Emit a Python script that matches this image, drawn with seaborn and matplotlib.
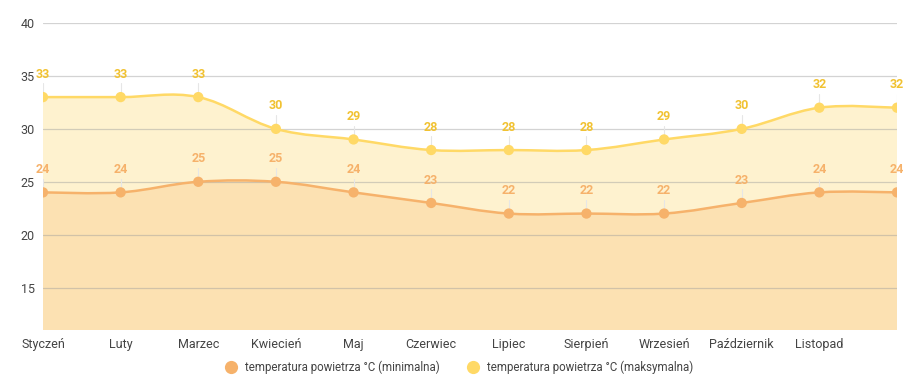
import matplotlib
matplotlib.use("Agg")
import matplotlib.pyplot as plt
from matplotlib.path import Path
from matplotlib.patches import PathPatch
import seaborn as sns
import pandas as pd

months = ["Styczeń", "Luty", "Marzec", "Kwiecień", "Maj", "Czerwiec", "Lipiec",
          "Sierpień", "Wrzesień", "Październik", "Listopad", "Grudzień"]
temp_min = [24, 24, 25, 25, 24, 23, 22, 22, 22, 23, 24, 24]
temp_max = [33, 33, 33, 30, 29, 28, 28, 28, 29, 30, 32, 32]
label_min = "temperatura powietrza °C (minimalna)"
label_max = "temperatura powietrza °C (maksymalna)"

c_min, c_max = "#F6B26B", "#FFD966"
fill_min, fill_max = "#FCE1B2", "#FEF2CF"
txt_min, txt_max = "#F6B26B", "#F1C232"
y_bottom = 11


def curve_path(xs, ys, close_to=None, t=0.18):
    # cardinal spline through the points, as cubic bezier segments
    pts = list(zip(xs, ys))
    n = len(pts)
    verts = [pts[0]]
    codes = [Path.MOVETO]
    for i in range(n - 1):
        p0 = pts[max(i - 1, 0)]
        p1 = pts[i]
        p2 = pts[i + 1]
        p3 = pts[min(i + 2, n - 1)]
        c1 = (p1[0] + (p2[0] - p0[0]) * t, p1[1] + (p2[1] - p0[1]) * t)
        c2 = (p2[0] - (p3[0] - p1[0]) * t, p2[1] - (p3[1] - p1[1]) * t)
        verts += [c1, c2, p2]
        codes += [Path.CURVE4] * 3
    if close_to is not None:
        verts += [(xs[-1], close_to), (xs[0], close_to), pts[0]]
        codes += [Path.LINETO, Path.LINETO, Path.CLOSEPOLY]
    return Path(verts, codes)


x = list(range(len(months)))
df = pd.DataFrame({
    "x": x + x,
    "temp": temp_min + temp_max,
    "seria": [label_min] * len(x) + [label_max] * len(x),
})

sns.set_style("white")
plt.rcParams["font.family"] = ["Roboto", "DejaVu Sans"]

fig = plt.figure(figsize=(9.16, 3.9), dpi=100)
ax = fig.add_axes([43 / 916, 60 / 390, 854 / 916, 307 / 390])

# filled areas
ax.add_patch(PathPatch(curve_path(x, temp_max, y_bottom), facecolor=fill_max, edgecolor="none", zorder=1))
ax.add_patch(PathPatch(curve_path(x, temp_min, y_bottom), facecolor=fill_min, edgecolor="none", zorder=1.1))

# gridlines on top of fills
for yv in [15, 20, 25, 30, 35, 40]:
    ax.axhline(yv, color="#9E9E9E", alpha=0.45, lw=0.9, zorder=1.5)

# smooth lines
ax.add_patch(PathPatch(curve_path(x, temp_max), facecolor="none", edgecolor=c_max, lw=1.8, zorder=3))
ax.add_patch(PathPatch(curve_path(x, temp_min), facecolor="none", edgecolor=c_min, lw=1.8, zorder=3))

sns.scatterplot(data=df, x="x", y="temp", hue="seria", palette=[c_min, c_max],
                s=55, edgecolor="none", ax=ax, zorder=4, legend=False)

# value labels with leader lines
for vals, col in [(temp_min, txt_min), (temp_max, txt_max)]:
    for xi, v in zip(x, vals):
        ax.plot([xi, xi], [v, v + 1.3], color="#E6E6E6", lw=0.8, zorder=2)
        ax.text(xi, v + 1.55, str(v), color=col, fontsize=9, fontweight="bold",
                ha="center", va="bottom", zorder=5)

ax.set_xlim(0, len(months) - 1)
ax.set_ylim(y_bottom, 40)
ax.set_yticks([15, 20, 25, 30, 35, 40])
ax.set_xticks(x[:-1])
ax.set_xticklabels(months[:-1])
ax.tick_params(axis="both", length=0, labelsize=9, labelcolor="#444444")
ax.tick_params(axis="y", pad=6)
ax.tick_params(axis="x", pad=6)
ax.set_xlabel("")
ax.set_ylabel("")
for s in ax.spines.values():
    s.set_visible(False)

handles = [
    plt.Line2D([], [], marker="o", color="none", markerfacecolor=c_min, markeredgecolor="none", markersize=9.5),
    plt.Line2D([], [], marker="o", color="none", markerfacecolor=c_max, markeredgecolor="none", markersize=9.5),
]
fig.legend(handles, [label_min, label_max], loc="center", bbox_to_anchor=(0.5, 1 - 367 / 390),
           ncol=2, frameon=False, fontsize=8.3, handletextpad=0.5, columnspacing=2.2,
           handlelength=1.4, labelcolor="#444444")

fig.savefig("out.png", dpi=100)
